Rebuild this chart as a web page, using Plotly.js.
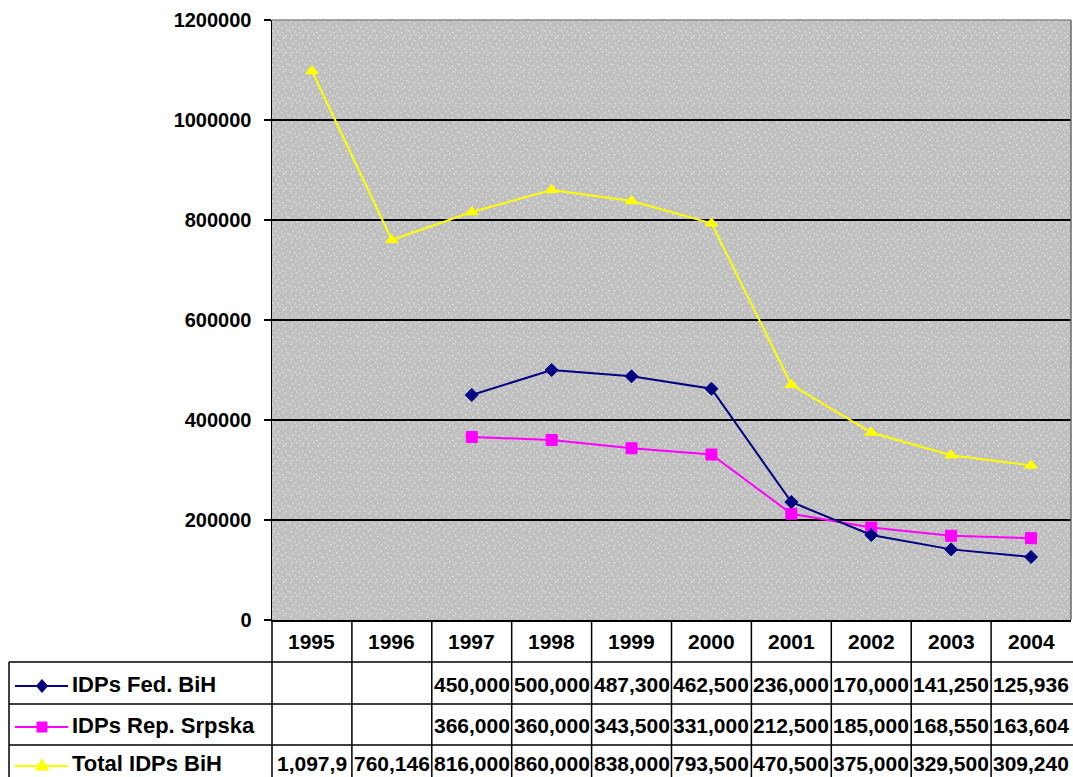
<!DOCTYPE html>
<html>
<head>
<meta charset="utf-8">
<script src="https://cdn.plot.ly/plotly-3.0.1.min.js"></script>
<style>
  html, body { margin: 0; padding: 0; background: #ffffff; }
  #chart { width: 1073px; height: 777px; }
</style>
</head>
<body>
<div id="chart"></div>
<script>
// Internally displaced persons in Bosnia and Herzegovina, 1995-2004
var years = ['1995', '1996', '1997', '1998', '1999', '2000', '2001', '2002', '2003', '2004'];
var fedBiH = [null, null, 450000, 500000, 487300, 462500, 236000, 170000, 141250, 125936];
var repSrpska = [null, null, 366000, 360000, 343500, 331000, 212500, 185000, 168550, 163604];
var totalBiH = [1097900, 760146, 816000, 860000, 838000, 793500, 470500, 375000, 329500, 309240];

var seriesNames = ['IDPs Fed. BiH', 'IDPs Rep. Srpska', 'Total IDPs BiH'];
var seriesColors = ['#000080', '#FF00FF', '#FFFF00'];
var seriesSymbols = ['diamond', 'square', 'triangle-up'];
var yTicks = [0, 200000, 400000, 600000, 800000, 1000000, 1200000];

// ---- page geometry (pixels) ----
var W = 1073, H = 777;
var plotL = 272, plotR = 1071, plotT = 20, plotB = 620;
var tableL = 9;
var rowLines = [662, 704, 745];           // horizontal rules of the data table
var headerMid = 641;
var rowMids = [684, 725, 763];
var FONT = 'Liberation Sans, Arial, sans-serif';

function px(x) { return x / W; }
function py(y) { return 1 - y / H; }

// a cell holds seven characters at this font size; longer numbers are cut off
function fitCell(v) {
  if (v === null) return '';
  var s = v.toLocaleString('en-US');
  return s.length > 7 ? s.slice(0, 7) : s;
}

var allSeries = [fedBiH, repSrpska, totalBiH];

var traces = allSeries.map(function (vals, i) {
  return {
    type: 'scatter',
    mode: 'lines+markers',
    name: seriesNames[i],
    x: years,
    y: vals,
    connectgaps: false,
    line: { color: seriesColors[i], width: 2 },
    marker: { symbol: seriesSymbols[i], size: i === 0 ? 10 : 11, color: seriesColors[i],
              line: { color: seriesColors[i], width: 1 } },
    hoverinfo: 'x+y+name'
  };
});
// yellow drawn first so the other series sit on top
traces = [traces[2], traces[1], traces[0]];

// ---- stippled grey plot background ----
var dots = [[1,1],[6,3],[11,0],[3,6],[9,7],[13,5],[0,10],[5,11],[10,12],[7,14],[2,15],[13,15],[15,9]];
var dotRects = dots.map(function (d) {
  return "<rect x='" + d[0] + "' y='" + d[1] + "' width='1.6' height='1.6' fill='#d9d9d9'/>";
}).join('');
var bgSvg = "<svg xmlns='http://www.w3.org/2000/svg' width='" + (plotR - plotL) + "' height='" + (plotB - plotT) + "'>" +
  "<defs><pattern id='p' width='17' height='17' patternUnits='userSpaceOnUse'>" +
  "<rect width='17' height='17' fill='#c0c0c0'/>" + dotRects + "</pattern></defs>" +
  "<rect width='100%' height='100%' fill='url(#p)'/></svg>";
var bgUri = 'data:image/svg+xml;charset=utf-8,' + encodeURIComponent(bgSvg);

// ---- data table: rules ----
var shapes = [];
var lineStyle = { color: '#000000', width: 1.5 };
var colW = (plotR - plotL) / years.length;

// plot area frame (top and right, grey)
shapes.push({ type: 'line', xref: 'paper', yref: 'paper', x0: px(plotL), x1: px(plotR), y0: py(plotT), y1: py(plotT),
              line: { color: '#8a8a8a', width: 1.5 }, layer: 'above' });
shapes.push({ type: 'line', xref: 'paper', yref: 'paper', x0: px(plotR), x1: px(plotR), y0: py(plotT), y1: py(plotB),
              line: { color: '#6a6a6a', width: 1.5 }, layer: 'above' });

rowLines.forEach(function (y) {
  shapes.push({ type: 'line', xref: 'paper', yref: 'paper', x0: px(tableL), x1: 1, y0: py(y), y1: py(y), line: lineStyle });
});
for (var k = 0; k < years.length; k++) {
  var xv = plotL + k * colW;
  shapes.push({ type: 'line', xref: 'paper', yref: 'paper', x0: px(xv), x1: px(xv), y0: py(plotB), y1: 0, line: lineStyle });
}
shapes.push({ type: 'line', xref: 'paper', yref: 'paper', x0: px(tableL), x1: px(tableL), y0: py(rowLines[0]), y1: 0, line: lineStyle });

// ---- legend keys inside the table ----
var keyX0 = 15, keyX1 = 68, keyMid = 42;
var keyLineY = [686, 727, 766];
seriesNames.forEach(function (n, i) {
  var y = keyLineY[i];
  shapes.push({ type: 'line', xref: 'paper', yref: 'paper', x0: px(keyX0), x1: px(keyX1), y0: py(y), y1: py(y),
                line: { color: seriesColors[i], width: 2 } });
  var path;
  if (i === 0) {
    path = 'M' + px(keyMid) + ',' + py(y - 6.5) + ' L' + px(keyMid + 5.5) + ',' + py(y) +
           ' L' + px(keyMid) + ',' + py(y + 6.5) + ' L' + px(keyMid - 5.5) + ',' + py(y) + ' Z';
  } else if (i === 1) {
    path = 'M' + px(keyMid - 5) + ',' + py(y - 5) + ' L' + px(keyMid + 5) + ',' + py(y - 5) +
           ' L' + px(keyMid + 5) + ',' + py(y + 5) + ' L' + px(keyMid - 5) + ',' + py(y + 5) + ' Z';
  } else {
    path = 'M' + px(keyMid) + ',' + py(y - 7) + ' L' + px(keyMid + 6.5) + ',' + py(y + 4) +
           ' L' + px(keyMid - 6.5) + ',' + py(y + 4) + ' Z';
  }
  shapes.push({ type: 'path', xref: 'paper', yref: 'paper', path: path,
                fillcolor: seriesColors[i], line: { color: seriesColors[i], width: 1 } });
});

// ---- table text ----
var annotations = [];
var cellFont = { family: FONT, size: 21, color: '#000000', weight: 'bold' };
var labelFont = { family: FONT, size: 22, color: '#000000', weight: 'bold' };
years.forEach(function (yr, c) {
  annotations.push({ xref: 'x', yref: 'paper', x: c, y: py(headerMid), text: yr, showarrow: false,
                     xanchor: 'center', yanchor: 'middle', font: cellFont });
});
allSeries.forEach(function (vals, r) {
  annotations.push({ xref: 'paper', yref: 'paper', x: px(70), y: py(rowMids[r]), text: seriesNames[r], showarrow: false,
                     xanchor: 'left', yanchor: 'middle', font: labelFont });
  vals.forEach(function (v, c) {
    if (v === null) return;
    annotations.push({ xref: 'x', yref: 'paper', x: c, y: py(rowMids[r]), text: fitCell(v), showarrow: false,
                       xanchor: 'center', yanchor: 'middle', font: cellFont });
  });
});

var layout = {
  width: W,
  height: H,
  margin: { l: 0, r: 0, t: 0, b: 0, pad: 0 },
  paper_bgcolor: '#ffffff',
  plot_bgcolor: 'rgba(0,0,0,0)',
  showlegend: false,
  font: { family: FONT, color: '#000000' },
  xaxis: {
    type: 'category',
    categoryorder: 'array',
    categoryarray: years,
    range: [-0.5, years.length - 0.5],
    domain: [px(plotL), px(plotR)],
    showticklabels: false,
    ticks: '',
    showgrid: false,
    zeroline: false,
    showline: true,
    linecolor: '#000000',
    linewidth: 1.5,
    fixedrange: true
  },
  yaxis: {
    range: [0, 1200000],
    domain: [py(plotB), py(plotT)],
    tickvals: yTicks,
    tickformat: 'd',
    ticks: 'outside',
    ticklen: 7,
    tickwidth: 1.5,
    tickcolor: '#000000',
    ticklabelstandoff: 8,
    tickfont: { family: FONT, size: 20, color: '#000000', weight: 'bold' },
    showgrid: true,
    gridcolor: '#000000',
    gridwidth: 1.5,
    zeroline: false,
    showline: true,
    linecolor: '#000000',
    linewidth: 1.5,
    fixedrange: true
  },
  images: [{
    source: bgUri,
    xref: 'paper', yref: 'paper',
    x: px(plotL), y: py(plotT),
    sizex: px(plotR) - px(plotL), sizey: py(plotT) - py(plotB),
    xanchor: 'left', yanchor: 'top',
    sizing: 'stretch',
    layer: 'below'
  }],
  shapes: shapes,
  annotations: annotations
};

Plotly.newPlot('chart', traces, layout, { displayModeBar: false, staticPlot: true });
</script>
</body>
</html>
